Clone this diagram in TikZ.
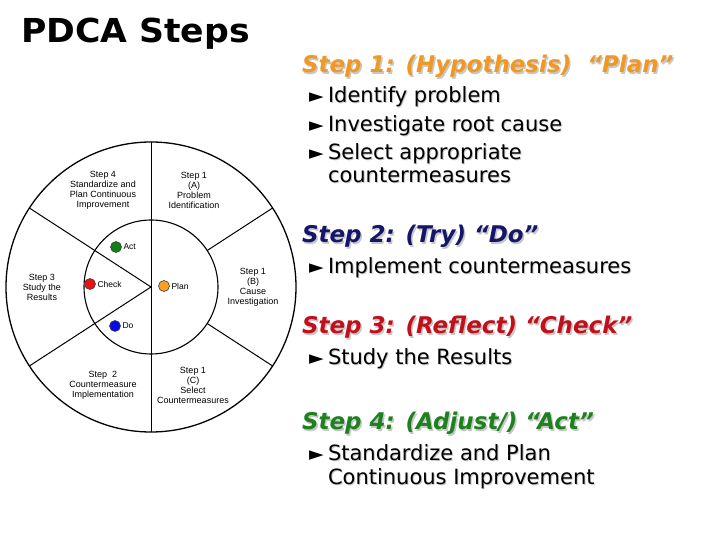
\documentclass[tikz,border=0pt]{standalone}
\usepackage{fontspec}
\setmainfont{DejaVu Sans}
\newfontfamily\wheelfont{Liberation Sans}
\usetikzlibrary{positioning,calc}
\definecolor{planorange}{RGB}{240,152,36}
\definecolor{donavy}{RGB}{22,22,104}
\definecolor{checkred}{RGB}{192,16,28}
\definecolor{actgreen}{RGB}{30,128,30}
\definecolor{dotgreen}{RGB}{16,128,16}
\definecolor{dotred}{RGB}{232,20,20}
\definecolor{dotorange}{RGB}{250,160,32}
\definecolor{dotblue}{RGB}{10,10,230}

\begin{document}
\begin{tikzpicture}[x=1pt,y=1pt,every node/.style={inner sep=0pt,outer sep=0pt},
  seglab/.style={font=\wheelfont\fontsize{9}{10}\selectfont,align=center},
  dotlab/.style={font=\wheelfont\fontsize{8.5}{10}\selectfont},
  head/.style={anchor=base west,font=\fontsize{23}{27}\selectfont\bfseries\itshape},
  body/.style={anchor=base west,font=\fontsize{21}{24}\selectfont},
  bul/.style={anchor=base west,font=\fontsize{19}{20}\selectfont},
  shade/.style={text=black!22}]
\useasboundingbox (0,0) rectangle (720,540);
\node[anchor=base west,font=\fontsize{33}{36}\selectfont\bfseries,xscale=1.05] (title) at (21,497) {PDCA Steps};
% wheel
\coordinate (c) at (151,253);
\draw[line width=1.3pt] (c) circle (145);
\draw[line width=1.1pt] (c) circle (67);
\draw[line width=1pt] (c) ++(0,145) -- ++(0,-290);
\draw[line width=1pt] (c) -- ++(147:145) (c) -- ++(213:145);
\draw[line width=1pt] ($(c)+(33:67)$) -- ($(c)+(33:145)$);
\draw[line width=1pt] ($(c)+(-33:67)$) -- ($(c)+(-33:145)$);
\foreach \n/\x/\y/\txt in {sfour/103/350/{Step 4\\Standardize and\\Plan Continuous\\Improvement},
  sonea/194/350/{Step 1\\(A)\\Problem\\Identification},
  soneb/253/253/{Step 1\\(B)\\Cause\\Investigation},
  sonec/193/155/{Step 1\\(C)\\Select\\Countermeasures},
  stwo/103/155/{Step\ \ 2\\Countermeasure\\Implementation},
  sthree/42/253/{Step 3\\Study the\\Results}}
  \node[seglab] (\n) at (\x,\y) {\txt};
\foreach \n/\x/\y/\col/\lab in {act/116/293/dotgreen/Act,check/90/256/dotred/Check,
  plan/164/254/dotorange/Plan,do/115/214/dotblue/Do}{
  \node[circle,draw=black!75,line width=0.6pt,fill=\col,minimum size=11pt] (\n) at (\x,\y) {};
  \node[dotlab,right=2pt of \n] (\n-lab) {\lab};}
% steps text
\node[head,shade] at (303.5,465.5) {Step 1: (Hypothesis)\ \ “Plan”};
\node[head,text=planorange] (hone) at (302,467) {Step 1: (Hypothesis)\ \ “Plan”};
\node[head,shade] at (303.5,295.5) {Step 2: (Try) “Do”};
\node[head,text=donavy] (htwo) at (302,297) {Step 2: (Try) “Do”};
\node[head,shade] at (303.5,204.5) {Step 3: (Reflect) “Check”};
\node[head,text=checkred] (hthree) at (302,206) {Step 3: (Reflect) “Check”};
\node[head,shade] at (303.5,108.5) {Step 4: (Adjust/) “Act”};
\node[head,text=actgreen] (hfour) at (302,110) {Step 4: (Adjust/) “Act”};
\foreach \n/\y in {bone/437,btwo/408,bthree/380,bfour/266,bfive/175,bsix/79}
  \node[bul] (\n) at (309,\y) {►};
\foreach \n/\y/\txt in {lone/437/Identify problem,ltwo/408/Investigate root cause,
  lthree/380/Select appropriate,lfour/357/countermeasures,lfive/266/Implement countermeasures,
  lsix/175/Study the Results,lseven/79/Standardize and Plan,leight/55/Continuous Improvement}{
  \node[body,shade] at (329,\y-1) {\txt};
  \node[body] (\n) at (328,\y) {\txt};}
\end{tikzpicture}
\end{document}
